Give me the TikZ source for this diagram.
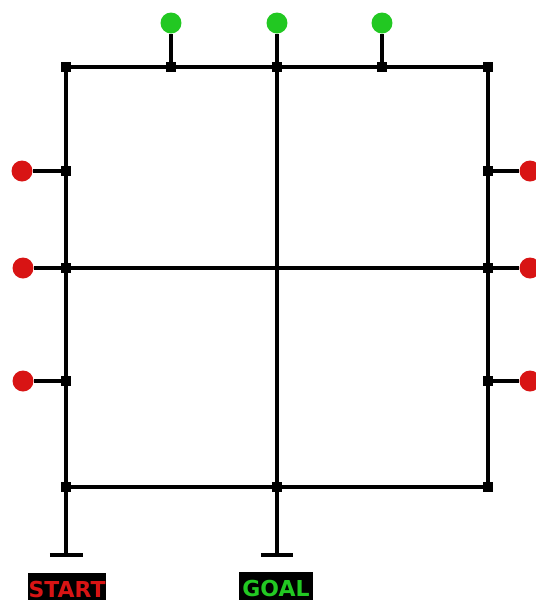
\documentclass[tikz,border=0pt]{standalone}
\usepackage{fontspec}
\setsansfont{DejaVu Sans}
\usetikzlibrary{calc}
\definecolor{goalgreen}{HTML}{22C822}
\definecolor{startred}{HTML}{D81414}

\begin{document}
\begin{tikzpicture}[x=0.02cm,y=-0.02cm,
    wire/.style={line width=2.1pt,black},
    junction/.style={rectangle,fill=black,minimum size=0.2cm,inner sep=0pt},
    goalpin/.style={circle,fill=goalgreen,minimum size=0.42cm,inner sep=0pt},
    startpin/.style={circle,fill=startred,minimum size=0.42cm,inner sep=0pt},
    tag/.style={fill=black,font=\sffamily\bfseries\fontsize{12.5}{13}\selectfont,minimum width=1.5cm,minimum height=0.64cm,inner xsep=0.5pt,inner ysep=1pt,anchor=north}]
    \useasboundingbox (0,0) rectangle (536,600);
    % grid junctions
    \node[junction] (tl) at (66,67) {};
    \node[junction] (t1) at (171,67) {};
    \node[junction] (tm) at (277,67) {};
    \node[junction] (t2) at (382,67) {};
    \node[junction] (tr) at (488,67) {};
    \node[junction] (l1) at (66,171) {};
    \node[junction] (lm) at (66,268) {};
    \node[junction] (l2) at (66,381) {};
    \node[junction] (r1) at (488,171) {};
    \node[junction] (rm) at (488,268) {};
    \node[junction] (r2) at (488,381) {};
    \node[junction] (bl) at (66,487) {};
    \node[junction] (bm) at (277,487) {};
    \node[junction] (br) at (488,487) {};
    \coordinate (cc) at (277,268);
    % pins
    \node[goalpin] (g1) at (171,23) {};
    \node[goalpin] (g2) at (277,23) {};
    \node[goalpin] (g3) at (382,23) {};
    \node[startpin] (p1) at (22,171) {};
    \node[startpin] (p2) at (23,268) {};
    \node[startpin] (p3) at (23,381) {};
    \node[startpin] (q1) at (530,171) {};
    \node[startpin] (q2) at (530,268) {};
    \node[startpin] (q3) at (530,381) {};
    % feet
    \coordinate (sf) at (66,555);
    \coordinate (gf) at (277,555);
    % outer frame and cross
    \draw[wire] (tl.center) -- (tr.center) -- (br.center) -- (bl.center) -- cycle;
    \draw[wire] (tm.center) -- (bm.center);
    \draw[wire] (lm.center) -- (rm.center);
    % stubs
    \draw[wire] (t1.center) -- (g1);
    \draw[wire] (tm.center) -- (g2);
    \draw[wire] (t2.center) -- (g3);
    \draw[wire] (l1.center) -- (p1);
    \draw[wire] (lm.center) -- (p2);
    \draw[wire] (l2.center) -- (p3);
    \draw[wire] (r1.center) -- (q1);
    \draw[wire] (rm.center) -- (q2);
    \draw[wire] (r2.center) -- (q3);
    \draw[wire] (bl.center) -- (sf);
    \draw[wire] (bm.center) -- (gf);
    \draw[wire] ($(sf)+(-16,0)$) -- ($(sf)+(17,0)$);
    \draw[wire] ($(gf)+(-16,0)$) -- ($(gf)+(16,0)$);
    % labels
    \node[tag,text=startred] (start) at (67,573) {START};
    \node[tag,text=goalgreen] (goal) at (276,572) {GOAL};
\end{tikzpicture}
\end{document}
